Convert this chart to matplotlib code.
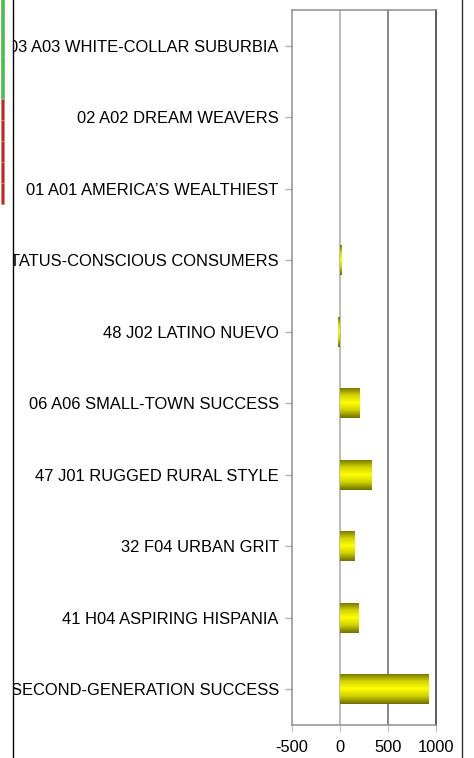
import matplotlib
matplotlib.use("Agg")
import matplotlib.pyplot as plt
import numpy as np
from matplotlib.colors import LinearSegmentedColormap
from matplotlib.transforms import Bbox
from matplotlib.patches import Rectangle

plt.rcParams['font.family'] = ['Liberation Sans', 'DejaVu Sans']

categories = [
    "03 A03 WHITE-COLLAR SUBURBIA",
    "02 A02 DREAM WEAVERS",
    "01 A01 AMERICA\u2019S WEALTHIEST",
    "07 B07 STATUS-CONSCIOUS CONSUMERS",
    "48 J02 LATINO NUEVO",
    "06 A06 SMALL-TOWN SUCCESS",
    "47 J01 RUGGED RURAL STYLE",
    "32 F04 URBAN GRIT",
    "41 H04 ASPIRING HISPANIA",
    "42 H05 SECOND-GENERATION SUCCESS",
]
values = [0, 0, 0, 12, -20, 208, 323, 146, 188, 917]
xticks = [-500, 0, 500, 1000]

W, H = 474, 758
fig = plt.figure(figsize=(W / 100, H / 100), dpi=100)
fig.patch.set_facecolor("white")

left, right, top, bottom = 292, 436, 10, 725
ax = fig.add_axes([left / W, (H - bottom) / H, (right - left) / W, (bottom - top) / H])

y = np.arange(len(categories))
bars = ax.barh(y, values, height=0.42, color="none", edgecolor="none", zorder=3)

cmap = LinearSegmentedColormap.from_list(
    "olive", ["#707000", "#d0d000", "#ffff00", "#d0d000", "#707000"])
grad = np.linspace(0, 1, 64).reshape(-1, 1)
for b in bars:
    x0, y0, w, h = b.get_x(), b.get_y(), b.get_width(), b.get_height()
    if w == 0:
        continue
    im = ax.imshow(grad, cmap=cmap, aspect="auto",
                   extent=[min(x0, x0 + w), max(x0, x0 + w), y0 + h, y0],
                   zorder=3, interpolation="bilinear")
    im.set_clip_path(b)

ax.set_xlim(-500, 1000)
ax.set_ylim(len(categories) - 0.5, -0.5)
ax.set_xticks(xticks)
ax.set_xticklabels([str(t) for t in xticks])
ax.set_yticks(y)
ax.set_yticklabels(categories)

ax.axvline(0, color="#a8a8a8", lw=1.1, zorder=1)
ax.axvline(500, color="#666666", lw=1.1, zorder=1)

for s in ["left", "top", "bottom"]:
    ax.spines[s].set_color("#909090")
    ax.spines[s].set_linewidth(1.1)
ax.spines["right"].set_color("#404040")
ax.spines["right"].set_linewidth(1.2)

ax.tick_params(axis="y", length=5, width=1, color="#b0b0b0", pad=4.5, labelsize=11.9)
ax.tick_params(axis="x", length=5, width=1, color="#c8c8c8", pad=6, labelsize=11.9)

# clip labels at the left frame line, as in the reference
clipbox = Bbox.from_extents(13.5, 0, W, H)
fig.canvas.draw()
for lbl in ax.get_yticklabels():
    lbl.set_clip_on(True)
    lbl.set_clip_box(clipbox)

# outer vertical frame lines
fig.add_artist(plt.Line2D([13 / W, 13 / W], [0, 1], color="black", lw=1.0, transform=fig.transFigure))
fig.add_artist(plt.Line2D([462 / W, 462 / W], [0, 1], color="#333333", lw=1.0, transform=fig.transFigure))

# left edge status markers
def seg(y0, y1, color):
    fig.add_artist(Rectangle((0.5 / W, (H - y1) / H), 3.5 / W, (y1 - y0) / H,
                             transform=fig.transFigure, facecolor=color,
                             edgecolor="#a0a0a0", lw=0.7))
green = [(-2, 13), (13, 34), (34, 56), (56, 77), (77, 98)]
red = [(99, 120), (120, 141), (141, 162), (162, 183), (183, 204)]
for a, b in green:
    seg(a, b, "#22dd22")
for a, b in red:
    seg(a, b, "#ee1111")

fig.savefig("out.png", dpi=100)
